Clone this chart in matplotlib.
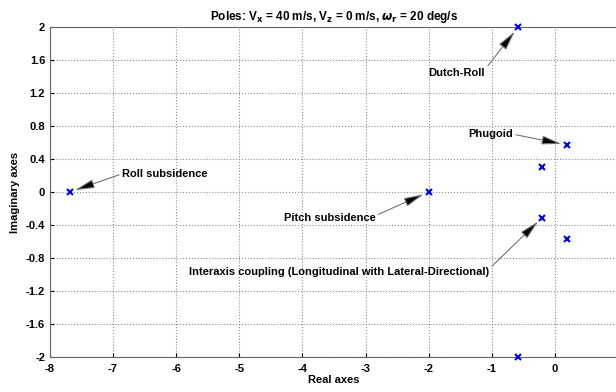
import numpy as np
import matplotlib.pyplot as plt
from matplotlib.ticker import MultipleLocator

plt.rcParams['font.family'] = ['Liberation Sans', 'DejaVu Sans']
plt.rcParams['font.weight'] = 'bold'
plt.rcParams['axes.unicode_minus'] = False

# poles
re_p = [-7.69, -2.0, -0.58, -0.58, 0.19, 0.19, -0.2, -0.2]
im_p = [0.0, 0.0, 2.0, -2.0, 0.57, -0.57, 0.3, -0.31]

yticks = [-2, -1.6, -1.2, -0.8, -0.4, 0, 0.4, 0.8, 1.2, 1.6, 2]
ylabels = ['-2', '-1.6', '-1.2', '-0.8', '-0.4', '0', '0.4', '0.8', '1.2', '1.6', '2']

# annotations: text, text position, pole pointed at, alignment, relpos
notes = ['Roll subsidence', 'Pitch subsidence', 'Dutch-Roll', 'Phugoid',
         'Interaxis coupling (Longitudinal with Lateral-Directional)']
note_xy = [(-6.86, 0.22), (-2.84, -0.31), (-2.0, 1.44), (-1.37, 0.70), (-5.8, -0.97)]
note_tgt = [(-7.69, 0.0), (-2.0, 0.0), (-0.58, 2.0), (0.19, 0.57), (-0.2, -0.31)]
note_ha = ['left', 'right', 'left', 'left', 'left']
note_rel = [(0, 0.5), (1, 0.7), (1, 0.9), (1, 0.5), (1, 0.8)]

fig = plt.figure(figsize=(6.16, 3.92), dpi=100)
ax = fig.add_axes([50/616, 35/392, 568/616, 330/392])

ax.plot(re_p, im_p, 'x', color='#0000ee', ms=4, mew=1.5, clip_on=False, zorder=5)

for t, xy, tg, ha, rp in zip(notes, note_xy, note_tgt, note_ha, note_rel):
    ax.annotate(t, xy=tg, xytext=xy, ha=ha, va='center', fontsize=8, fontweight='bold',
                arrowprops=dict(arrowstyle='-|>,head_length=0.8,head_width=0.18',
                                ec='0.45', fc='k', lw=0.8,
                                mutation_scale=15, shrinkA=0, shrinkB=4, relpos=rp))

ax.set_xlim(-8, 1)
ax.set_ylim(-2, 2)
ax.xaxis.set_major_locator(MultipleLocator(1))
ax.set_yticks(yticks)
ax.set_yticklabels(ylabels)
ax.grid(True, linestyle=':', color='0.55', lw=0.8)
ax.tick_params(direction='in', labelsize=8, length=3)
ax.tick_params(axis='x', pad=5)
for s in ax.spines.values():
    s.set_color('0.4')

ax.set_xlabel('Real axes', fontsize=8, fontweight='bold', labelpad=1)
ax.set_ylabel('Imaginary axes', fontsize=8, fontweight='bold', labelpad=4)
ax.set_title(r'Poles: V$_\mathbf{x}$ = 40 m/s, V$_\mathbf{z}$ = 0 m/s, $\omega_\mathbf{r}$ = 20 deg/s',
             fontsize=8.5, fontweight='bold', pad=5)

fig.savefig('out.png', dpi=100)
